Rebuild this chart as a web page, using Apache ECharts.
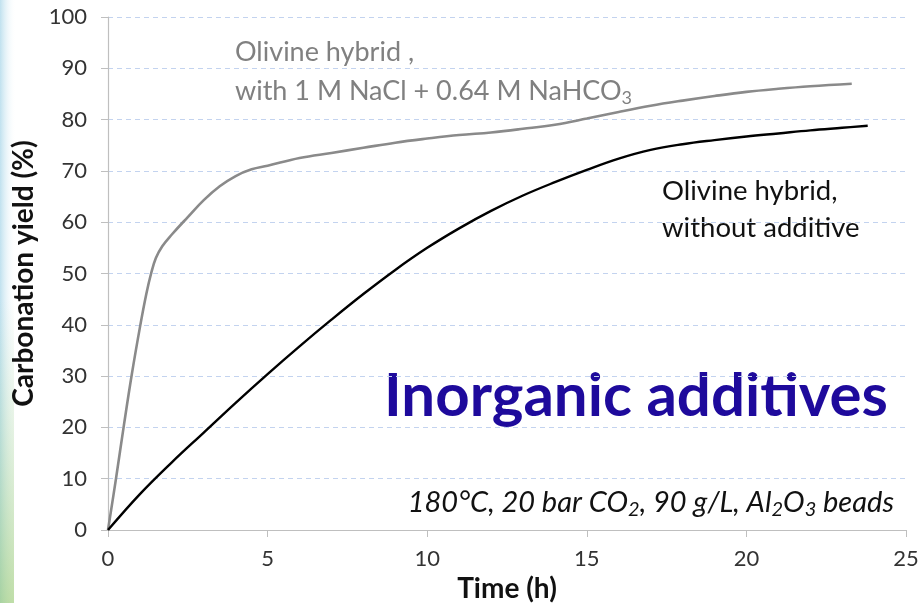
<!DOCTYPE html>
<html>
<head>
<meta charset="utf-8">
<script src="https://cdn.jsdelivr.net/npm/echarts@6/dist/echarts.min.js"></script>
<style>
  html, body { margin: 0; padding: 0; background: #ffffff; }
  #chart { width: 920px; height: 603px; }
</style>
</head>
<body>
<div id="chart"></div>
<script>
// Carbonation yield over time for olivine hybrid, with and without salt additives
const additiveTime  = [0, 0.25, 0.5, 0.75, 1.0, 1.2, 1.35, 1.5, 1.7, 2.0, 2.5, 3.0, 3.5, 4.0, 4.5, 5, 6, 7, 8, 9, 10, 11, 12, 13, 14, 15, 16, 17, 18, 19, 20, 21, 22, 23.3];
const additiveYield = [0, 10, 20.5, 30.5, 39.5, 46, 50, 53, 55.3, 57.6, 61, 64.3, 67, 69, 70.3, 71, 72.5, 73.5, 74.5, 75.5, 76.3, 77, 77.5, 78.2, 79, 80.2, 81.5, 82.7, 83.7, 84.6, 85.4, 86, 86.5, 87];

const plainTime  = [0, 1, 2, 3, 4, 5, 6, 7, 8, 9, 10, 11, 12, 13, 14, 15, 16, 17, 18, 19, 20, 21, 22, 23, 23.8];
const plainYield = [0, 7, 13.2, 19, 24.8, 30.4, 35.8, 41, 46, 50.7, 55, 58.8, 62.2, 65.2, 67.8, 70.2, 72.4, 74.1, 75.2, 76, 76.7, 77.3, 77.9, 78.4, 78.8];

const xTicks = [0, 5, 10, 15, 20, 25];
const yTicks = [0, 10, 20, 30, 40, 50, 60, 70, 80, 90, 100];

const FONT = 'Lato, "Open Sans", sans-serif';

function pairs(xs, ys) { return xs.map((x, i) => [x, ys[i]]); }

function label(x, y, text, size, color, extra) {
  return {
    type: 'text', x: x, y: y,
    style: Object.assign({
      text: text, fontFamily: FONT, fontSize: size, fill: color,
      align: 'left', verticalAlign: 'middle'
    }, extra || {})
  };
}

const chart = echarts.init(document.getElementById('chart'), null, { renderer: 'canvas' });

chart.setOption({
  backgroundColor: '#ffffff',
  animation: false,
  grid: { left: 108, top: 17, right: 14, bottom: 73, containLabel: false, outerBoundsMode: 'none' },
  xAxis: {
    type: 'value',
    min: xTicks[0], max: xTicks[xTicks.length - 1], interval: 5,
    name: 'Time (h)', nameLocation: 'middle', nameGap: 38,
    nameTextStyle: { fontFamily: FONT, fontSize: 28, fontWeight: 'bold', color: '#111' },
    axisLine: { show: true, lineStyle: { color: '#bfbfbf', width: 1.2 } },
    axisTick: { show: true, length: 7, lineStyle: { color: '#bfbfbf' } },
    axisLabel: { fontFamily: FONT, fontSize: 22, color: '#333', margin: 18 },
    splitLine: { show: false }
  },
  yAxis: {
    type: 'value',
    min: yTicks[0], max: yTicks[yTicks.length - 1], interval: 10,
    name: 'Carbonation yield (%)', nameLocation: 'middle', nameGap: 60, nameRotate: 90,
    nameTextStyle: { fontFamily: FONT, fontSize: 28, fontWeight: 'bold', color: '#111' },
    axisLine: { show: true, lineStyle: { color: '#bfbfbf', width: 1.2 } },
    axisTick: { show: true, length: 7, lineStyle: { color: '#bfbfbf' } },
    axisLabel: { fontFamily: FONT, fontSize: 22, color: '#333', margin: 21 },
    splitLine: { show: true, lineStyle: { color: '#c3d3ef', type: [5, 4], width: 1.2 } }
  },
  series: [
    {
      name: 'Olivine hybrid, with 1 M NaCl + 0.64 M NaHCO3',
      type: 'line', smooth: 0.4, symbol: 'none',
      lineStyle: { color: '#8a8a8a', width: 2.6 },
      data: pairs(additiveTime, additiveYield)
    },
    {
      name: 'Olivine hybrid, without additive',
      type: 'line', smooth: 0.4, symbol: 'none',
      lineStyle: { color: '#000000', width: 2.4 },
      data: pairs(plainTime, plainYield)
    }
  ],
  graphic: [
    {
      type: 'rect', left: 0, top: 0, z: -10,
      shape: { width: 16, height: 603 },
      style: {
        fill: new echarts.graphic.LinearGradient(0, 0, 1, 0, [
          { offset: 0, color: 'rgba(140,200,225,0.55)' },
          { offset: 1, color: 'rgba(255,255,255,0)' }
        ])
      }
    },
    {
      type: 'rect', left: 0, top: 300, z: -9,
      shape: { width: 14, height: 303 },
      style: {
        fill: new echarts.graphic.LinearGradient(0, 0, 1, 1, [
          { offset: 0, color: 'rgba(160,210,170,0.0)' },
          { offset: 1, color: 'rgba(150,200,110,0.6)' }
        ])
      }
    },
    label(235, 52, 'Olivine hybrid ,', 27, '#808080'),
    label(235, 91, '{n|with 1 M NaCl + 0.64 M NaHCO}{s|3}', 27, '#808080', {
      rich: {
        n: { fontFamily: FONT, fontSize: 27, fill: '#808080' },
        s: { fontFamily: FONT, fontSize: 18, fill: '#808080', padding: [14, 0, 0, 0] }
      }
    }),
    label(662, 191, 'Olivine hybrid,', 27.5, '#111'),
    label(662, 228, 'without additive', 27.5, '#111'),
    label(384, 397, 'Inorganic additives', 60, '#1e0a9c', { fontWeight: 'bold' }),
    label(894, 503, '{n|180°C, 20 bar CO}{s|2}{n|, 90 g/L, Al}{s|2}{n|O}{s|3}{n| beads}', 29, '#111', {
      align: 'right',
      rich: {
        n: { fontFamily: FONT, fontSize: 29, fontStyle: 'italic', fill: '#111' },
        s: { fontFamily: FONT, fontSize: 20, fontStyle: 'italic', fill: '#111', padding: [14, 0, 0, 0] }
      }
    })
  ]
});
</script>
</body>
</html>
